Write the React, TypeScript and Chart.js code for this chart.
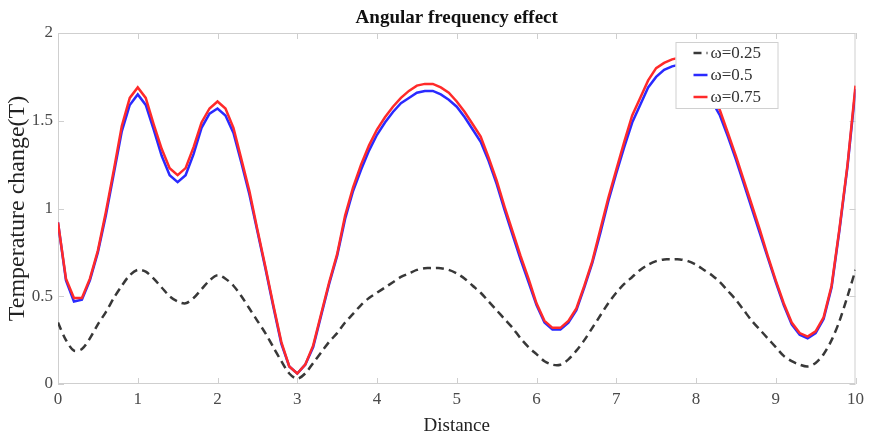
import React, { useEffect, useRef } from "react";
import { Chart, registerables } from "chart.js";

Chart.register(...registerables);

const distance = [
  0, 0.1, 0.2, 0.3, 0.4, 0.5, 0.6, 0.7, 0.8, 0.9,
  1, 1.1, 1.2, 1.3, 1.4, 1.5, 1.6, 1.7, 1.8, 1.9,
  2, 2.1, 2.2, 2.3, 2.4, 2.5, 2.6, 2.7, 2.8, 2.9,
  3, 3.1, 3.2, 3.3, 3.4, 3.5, 3.6, 3.7, 3.8, 3.9,
  4, 4.1, 4.2, 4.3, 4.4, 4.5, 4.6, 4.7, 4.8, 4.9,
  5, 5.1, 5.2, 5.3, 5.4, 5.5, 5.6, 5.7, 5.8, 5.9,
  6, 6.1, 6.2, 6.3, 6.4, 6.5, 6.6, 6.7, 6.8, 6.9,
  7, 7.1, 7.2, 7.3, 7.4, 7.5, 7.6, 7.7, 7.8, 7.9,
  8, 8.1, 8.2, 8.3, 8.4, 8.5, 8.6, 8.7, 8.8, 8.9,
  9, 9.1, 9.2, 9.3, 9.4, 9.5, 9.6, 9.7, 9.8, 9.9,
  10,
];

const omega025 = [
  0.35, 0.25, 0.19, 0.20, 0.26, 0.34, 0.41, 0.49, 0.56, 0.62,
  0.65, 0.64, 0.60, 0.55, 0.50, 0.47, 0.46, 0.49, 0.54, 0.59,
  0.62, 0.60, 0.56, 0.50, 0.43, 0.36, 0.29, 0.21, 0.13, 0.06,
  0.03, 0.06, 0.12, 0.18, 0.24, 0.29, 0.35, 0.40, 0.45, 0.49,
  0.52, 0.55, 0.58, 0.61, 0.63, 0.65, 0.66, 0.66, 0.66, 0.65,
  0.63, 0.60, 0.56, 0.52, 0.47, 0.42, 0.37, 0.32, 0.26, 0.21,
  0.17, 0.13, 0.11, 0.11, 0.14, 0.19, 0.25, 0.32, 0.39, 0.46,
  0.52, 0.57, 0.61, 0.65, 0.68, 0.70, 0.71, 0.71, 0.71, 0.70,
  0.68, 0.65, 0.62, 0.58, 0.53, 0.48, 0.42, 0.36, 0.31, 0.26,
  0.21, 0.16, 0.13, 0.11, 0.10, 0.12, 0.17, 0.25, 0.36, 0.50,
  0.65,
];

const omega05 = [
  0.92, 0.59, 0.47, 0.48, 0.59, 0.75, 0.96, 1.20, 1.44, 1.59,
  1.65, 1.59, 1.45, 1.30, 1.19, 1.15, 1.19, 1.31, 1.46, 1.54,
  1.57, 1.53, 1.43, 1.26, 1.08, 0.87, 0.66, 0.44, 0.23, 0.10,
  0.06, 0.11, 0.21, 0.39, 0.57, 0.73, 0.94, 1.10, 1.22, 1.33,
  1.42, 1.49, 1.55, 1.60, 1.63, 1.66, 1.67, 1.67, 1.65, 1.62,
  1.58, 1.52, 1.45, 1.38, 1.27, 1.14, 0.99, 0.85, 0.71, 0.58,
  0.45, 0.35, 0.31, 0.31, 0.35, 0.42, 0.55, 0.69, 0.86, 1.04,
  1.20, 1.35, 1.49, 1.59, 1.69, 1.75, 1.79, 1.81, 1.82, 1.80,
  1.76, 1.69, 1.61, 1.53, 1.41, 1.28, 1.14, 1.00, 0.86, 0.72,
  0.58, 0.45, 0.34, 0.28, 0.26, 0.29, 0.37, 0.55, 0.88, 1.24,
  1.68,
];

const omega075 = [
  0.92, 0.60, 0.49, 0.49, 0.60, 0.76, 0.98, 1.22, 1.47, 1.63,
  1.69, 1.63, 1.48, 1.34, 1.23, 1.19, 1.23, 1.35, 1.49, 1.57,
  1.61, 1.57, 1.46, 1.28, 1.10, 0.88, 0.67, 0.45, 0.24, 0.10,
  0.06, 0.11, 0.22, 0.40, 0.58, 0.74, 0.96, 1.12, 1.25, 1.36,
  1.45, 1.52, 1.58, 1.63, 1.67, 1.70, 1.71, 1.71, 1.69, 1.66,
  1.61, 1.55, 1.48, 1.41, 1.29, 1.16, 1.01, 0.87, 0.73, 0.60,
  0.46, 0.36, 0.32, 0.32, 0.36, 0.43, 0.56, 0.70, 0.88, 1.06,
  1.22, 1.38, 1.53, 1.63, 1.73, 1.80, 1.83, 1.85, 1.86, 1.84,
  1.79, 1.72, 1.64, 1.56, 1.43, 1.30, 1.16, 1.02, 0.88, 0.73,
  0.59, 0.46, 0.35, 0.29, 0.27, 0.30, 0.38, 0.56, 0.89, 1.25,
  1.70,
];

const chartTitle = "Angular frequency effect";
const seriesLabels = ["\u03c9=0.25", "\u03c9=0.5", "\u03c9=0.75"];
const xTickValues = [0, 1, 2, 3, 4, 5, 6, 7, 8, 9, 10];
const yTickValues = [0, 0.5, 1, 1.5, 2];
const yTickLabels = ["0", "0.5", "1", "1.5", "2"];

const SERIF = '"Liberation Serif", "Times New Roman", serif';

const frameTicksPlugin = {
  id: "frameTicks",
  beforeDatasetsDraw(chart: any) {
    const { ctx, chartArea, scales } = chart;
    const { left, right, top, bottom } = chartArea;
    ctx.save();
    ctx.strokeStyle = "#cfcfcf";
    ctx.lineWidth = 1;
    ctx.strokeRect(left + 0.5, top + 0.5, right - left - 1, bottom - top - 1);
    const len = 6;
    ctx.beginPath();
    xTickValues.forEach((v) => {
      const px = Math.round(scales.x.getPixelForValue(v)) + 0.5;
      ctx.moveTo(px, bottom);
      ctx.lineTo(px, bottom - len);
      ctx.moveTo(px, top);
      ctx.lineTo(px, top + len);
    });
    yTickValues.forEach((v) => {
      const py = Math.round(scales.y.getPixelForValue(v)) + 0.5;
      ctx.moveTo(left, py);
      ctx.lineTo(left + len, py);
      ctx.moveTo(right, py);
      ctx.lineTo(right - len, py);
    });
    ctx.stroke();
    ctx.restore();
  },
};

const titlePlugin = {
  id: "areaTitle",
  afterDraw(chart: any) {
    const { ctx, chartArea } = chart;
    ctx.save();
    ctx.fillStyle = "#111111";
    ctx.font = `bold 19px ${SERIF}`;
    ctx.textAlign = "center";
    ctx.textBaseline = "middle";
    ctx.fillText(chartTitle, (chartArea.left + chartArea.right) / 2, chartArea.top - 15);
    ctx.restore();
  },
};

const legendPlugin = {
  id: "boxLegend",
  afterDraw(chart: any) {
    const { ctx, chartArea } = chart;
    const bx = chartArea.right - 180;
    const by = chartArea.top + 9;
    const bw = 102;
    const bh = 66;
    ctx.save();
    ctx.fillStyle = "#ffffff";
    ctx.fillRect(bx, by, bw, bh);
    ctx.strokeStyle = "#d0d0d0";
    ctx.lineWidth = 1;
    ctx.strokeRect(bx + 0.5, by + 0.5, bw, bh);
    const order = [2, 1, 0];
    order.forEach((di, row) => {
      const ds = chart.data.datasets[di];
      const yy = by + 11 + row * 22;
      ctx.beginPath();
      ctx.strokeStyle = ds.borderColor;
      ctx.lineWidth = ds.borderWidth;
      ctx.setLineDash(ds.borderDash || []);
      ctx.moveTo(bx + 18, yy);
      ctx.lineTo(bx + 32, yy);
      ctx.stroke();
      ctx.setLineDash([]);
      ctx.fillStyle = "#333333";
      ctx.font = `17px ${SERIF}`;
      ctx.textBaseline = "middle";
      ctx.textAlign = "left";
      ctx.fillText(ds.label, bx + 35, yy + 1);
    });
    ctx.restore();
  },
};

export default function App() {
  const canvasRef = useRef<HTMLCanvasElement | null>(null);

  useEffect(() => {
    const canvas = canvasRef.current;
    if (!canvas) return;
    const toPoints = (vals: number[]) => distance.map((d, i) => ({ x: d, y: vals[i] }));
    const chart = new Chart(canvas, {
      type: "line",
      data: {
        datasets: [
          {
            label: seriesLabels[2],
            data: toPoints(omega075),
            borderColor: "#ff2a2a",
            borderWidth: 2.5,
            pointRadius: 0,
            tension: 0,
            order: 0,
          },
          {
            label: seriesLabels[1],
            data: toPoints(omega05),
            borderColor: "#2a2aff",
            borderWidth: 2.5,
            pointRadius: 0,
            tension: 0,
            order: 1,
          },
          {
            label: seriesLabels[0],
            data: toPoints(omega025),
            borderColor: "#383838",
            borderWidth: 2.5,
            borderDash: [8, 5],
            pointRadius: 0,
            tension: 0.3,
            order: 2,
          },
        ],
      },
      options: {
        responsive: false,
        animation: false,
        layout: { padding: { left: 0, right: 10, top: 33, bottom: 0 } },
        plugins: {
          legend: { display: false },
          tooltip: { enabled: false },
          title: { display: false },
        },
        scales: {
          x: {
            type: "linear",
            min: 0,
            max: 10,
            afterBuildTicks: (s: any) => {
              s.ticks = xTickValues.map((v) => ({ value: v }));
            },
            afterFit: (s: any) => {
              s.height = 53;
            },
            grid: { display: false, drawTicks: false },
            border: { display: false },
            ticks: {
              color: "#4a4a4a",
              font: { family: SERIF, size: 17 },
              padding: 5,
              maxRotation: 0,
            },
            title: {
              display: true,
              text: "Distance",
              color: "#222222",
              font: { family: SERIF, size: 19 },
              padding: { top: 0, bottom: 0 },
            },
          },
          y: {
            type: "linear",
            min: 0,
            max: 2,
            afterBuildTicks: (s: any) => {
              s.ticks = yTickValues.map((v) => ({ value: v }));
            },
            afterFit: (s: any) => {
              s.width = 58;
            },
            grid: { display: false, drawTicks: false },
            border: { display: false },
            ticks: {
              color: "#4a4a4a",
              font: { family: SERIF, size: 17 },
              padding: 5,
              callback: (value: any) => {
                const i = yTickValues.indexOf(Number(value));
                return i >= 0 ? yTickLabels[i] : "";
              },
            },
            title: {
              display: true,
              text: "Temperature change(T)",
              color: "#222222",
              font: { family: SERIF, size: 24 },
              padding: { top: 3, bottom: 0 },
            },
          },
        },
      },
      plugins: [frameTicksPlugin, titlePlugin, legendPlugin],
    });
    return () => chart.destroy();
  }, []);

  return (
    <div style={{ position: "fixed", left: 0, top: 0, width: 869, height: 437, background: "#ffffff" }}>
      <canvas ref={canvasRef} width={869} height={437} />
    </div>
  );
}
